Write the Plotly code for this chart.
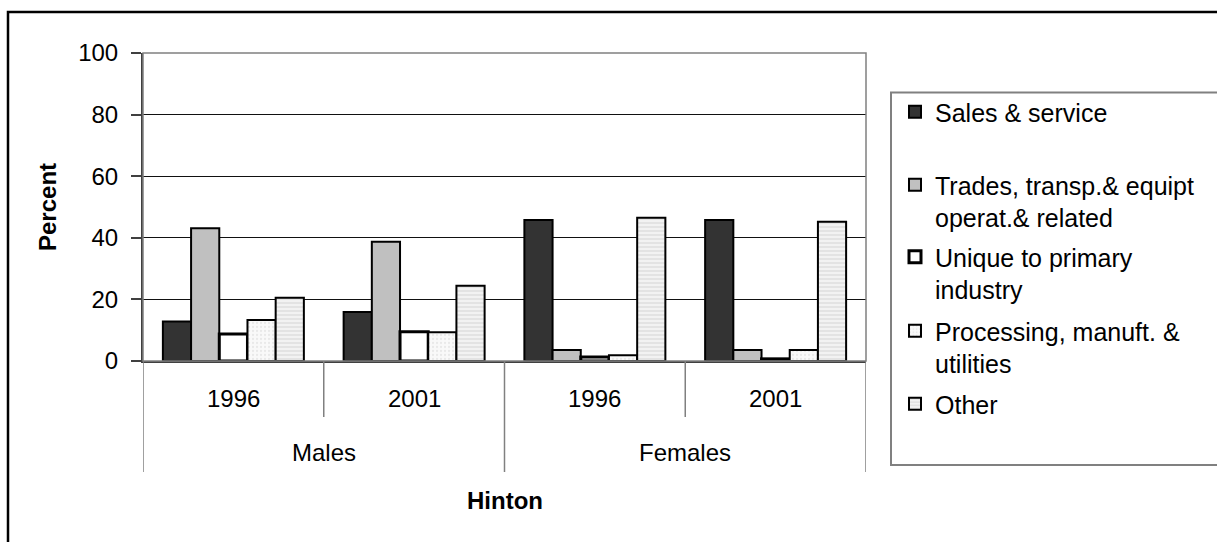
import plotly.graph_objects as go

# Occupation shares (%) for Hinton, by sex and census year
groups = ["Males", "Males", "Females", "Females"]
years = ["1996", "2001", "1996", "2001"]

sales_service = [12.8, 15.9, 45.8, 45.8]
trades_transport = [43.1, 38.7, 3.6, 3.6]
unique_primary = [8.8, 9.5, 1.3, 0.7]
processing_manuf = [13.3, 9.3, 1.9, 3.6]
other = [20.5, 24.4, 46.5, 45.2]

series_names = [
    "Sales & service",
    "Trades, transp.& equipt<br>operat.& related",
    "Unique to primary<br>industry",
    "Processing, manuft. &<br>utilities",
    "Other",
]
series_values = [sales_service, trades_transport, unique_primary, processing_manuf, other]

y_ticks = [0, 20, 40, 60, 80, 100]

FONT = "Liberation Sans, Arial, sans-serif"
W, H = 1217, 542
PL, PR, PT, PB = 143, 866, 53, 361  # plot area in pixels


def px_x(px):
    return (px - PL) / (PR - PL)


def px_y(py):
    return (PB - py) / (PB - PT)


cats = [f"{g} {y}" for g, y in zip(groups, years)]

styles = [
    dict(color="#333333", line=dict(color="black", width=2)),
    dict(color="#c0c0c0", line=dict(color="black", width=2)),
    dict(color="white", line=dict(color="black", width=3)),
    dict(color="#f7f7f7", line=dict(color="black", width=2),
         pattern=dict(shape=".", fgcolor="#d8d8d8", bgcolor="#f9f9f9", size=4, solidity=0.25)),
    dict(color="#eeeeee", line=dict(color="black", width=2),
         pattern=dict(shape="-", fgcolor="#c4c4c4", bgcolor="#f2f2f2", size=4, solidity=0.35)),
]

legend_ids = ["legend", "legend2", "legend3", "legend4", "legend5"]
legend_first_line_y = [113, 186, 258, 332, 405]

fig = go.Figure()
for name, vals, st, lg in zip(series_names, series_values, styles, legend_ids):
    fig.add_trace(go.Bar(x=cats, y=vals, name=name, marker=st, legend=lg, showlegend=True))

layout_legends = {}
for lg, ly in zip(legend_ids, legend_first_line_y):
    layout_legends[lg] = dict(
        x=px_x(895), xanchor="left",
        y=px_y(ly - 24), yanchor="top",
        font=dict(family=FONT, size=25, color="black"),
        bgcolor="rgba(0,0,0,0)", borderwidth=0, valign="top",
        tracegroupgap=0, visible=True,
    )

shapes = []
# outer chart frame
shapes.append(dict(type="rect", xref="paper", yref="paper",
                   x0=px_x(8), x1=px_x(1400), y0=px_y(12), y1=px_y(800),
                   line=dict(color="black", width=2.5), layer="above"))
# plot area border
shapes.append(dict(type="rect", xref="paper", yref="paper",
                   x0=0, x1=1, y0=0, y1=1,
                   line=dict(color="#808080", width=1.5), layer="above"))
# legend box
shapes.append(dict(type="rect", xref="paper", yref="paper",
                   x0=px_x(891), x1=px_x(1400), y0=px_y(465), y1=px_y(92.5),
                   line=dict(color="#808080", width=2), layer="above"))
# category dividers: year boundaries (short) and group boundaries (long)
for i in range(len(cats) + 1):
    xb = i - 0.5
    is_group_edge = i == 0 or i == len(cats) or groups[i] != groups[i - 1]
    shapes.append(dict(type="line", xref="x", yref="paper",
                       x0=xb, x1=xb, y0=0, y1=px_y(472 if is_group_edge else 417),
                       line=dict(color="#808080", width=1.5)))

annotations = []
for c, yr in zip(cats, years):
    annotations.append(dict(x=c, y=px_y(398), xref="x", yref="paper", text=yr,
                            showarrow=False, font=dict(family=FONT, size=24, color="black"),
                            xanchor="center", yanchor="middle"))
seen = []
for i, g in enumerate(groups):
    if g in seen:
        continue
    seen.append(g)
    idx = [j for j, gg in enumerate(groups) if gg == g]
    xc = (idx[0] + idx[-1]) / 2
    annotations.append(dict(x=xc, y=px_y(452), xref="x", yref="paper", text=g,
                            showarrow=False, font=dict(family=FONT, size=24, color="black"),
                            xanchor="center", yanchor="middle"))
annotations.append(dict(x=0.5, y=px_y(500), xref="paper", yref="paper", text="<b>Hinton</b>",
                        showarrow=False, font=dict(family=FONT, size=24, color="black"),
                        xanchor="center", yanchor="middle"))
annotations.append(dict(x=px_x(47), y=0.5, xref="paper", yref="paper", text="<b>Percent</b>",
                        textangle=-90, showarrow=False,
                        font=dict(family=FONT, size=24, color="black"),
                        xanchor="center", yanchor="middle"))

fig.update_layout(
    width=W, height=H,
    margin=dict(l=PL, r=W - PR, t=PT, b=H - PB, pad=0),
    paper_bgcolor="white", plot_bgcolor="white",
    barmode="group", bargap=0.22, bargroupgap=0,
    showlegend=True,
    font=dict(family=FONT, size=24, color="black"),
    shapes=shapes, annotations=annotations,
    **layout_legends,
)
fig.update_xaxes(
    type="category", range=[-0.5, len(cats) - 0.5],
    showticklabels=False, ticks="", showgrid=False,
    showline=True, linecolor="#404040", linewidth=2, zeroline=False,
)
fig.update_yaxes(
    range=[0, 100], tickvals=y_ticks, ticktext=[str(v) for v in y_ticks],
    showgrid=True, gridcolor="#111111", gridwidth=1,
    showline=True, linecolor="#404040", linewidth=2,
    ticks="outside", ticklen=10, tickcolor="#404040", tickwidth=1.5,
    ticklabelstandoff=8, zeroline=False,
    tickfont=dict(family=FONT, size=24, color="black"),
)

fig.write_html("out.html")
